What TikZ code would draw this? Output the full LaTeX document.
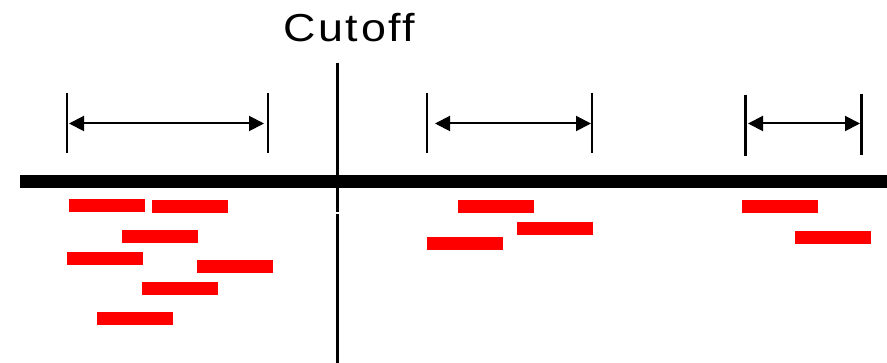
\documentclass[tikz,border=0pt]{standalone}
\usepackage{fontspec}
\setmainfont{Liberation Sans}
\usetikzlibrary{arrows.meta,positioning}

\begin{document}
\begin{tikzpicture}[x=1pt,y=-1pt,
    bar/.style={fill=red,inner sep=0pt,minimum width=76pt,minimum height=13pt,anchor=north west},
    tick/.style={line width=2pt},
    span/.style={line width=2pt,{Triangle[length=15pt,width=15pt]}-{Triangle[length=15pt,width=15pt]}}]
    \useasboundingbox (0,0) rectangle (887,363);
    %\draw[color=gray,step=10pt,help lines,opacity=0.3] (0,0) grid (887,363); %help grids
    % time axis and cutoff
    \coordinate (L) at (20,181.5);
    \coordinate (R) at (887,181.5);
    \draw[line width=13pt] (L)--(R);
    \coordinate (C0) at (337.5,63);
    \coordinate (C1) at (337.5,212.5);
    \coordinate (C2) at (337.5,214.5);
    \coordinate (C3) at (337.5,363);
    \draw[line width=2.7pt] (C0)--(C1);
    \draw[line width=2.7pt] (C2)--(C3);
    \node[inner sep=0pt,anchor=base west] (cut) at (283,41.3)
        {\scalebox{1.15}[1]{\fontsize{39}{40}\selectfont\addfontfeature{LetterSpace=6}Cutoff}};
    % spans
    \coordinate (P1a) at (66.7,93); \coordinate (P1b) at (66.7,153);
    \coordinate (Q1a) at (268,93);  \coordinate (Q1b) at (268,153);
    \draw[tick] (P1a)--(P1b);
    \draw[tick] (Q1a)--(Q1b);
    \coordinate (A1) at (69,123.5); \coordinate (B1) at (264,123.5);
    \draw[span] (A1)--(B1);
    \coordinate (P2a) at (426.7,93); \coordinate (P2b) at (426.7,153);
    \coordinate (Q2a) at (592,93);   \coordinate (Q2b) at (592,153);
    \draw[tick] (P2a)--(P2b);
    \draw[tick] (Q2a)--(Q2b);
    \coordinate (A2) at (435,123.5); \coordinate (B2) at (591,123.5);
    \draw[span] (A2)--(B2);
    \coordinate (P3a) at (745.5,95); \coordinate (P3b) at (745.5,156);
    \coordinate (Q3a) at (861.5,94); \coordinate (Q3b) at (861.5,155);
    \draw[tick,line width=2.7pt] (P3a)--(P3b);
    \draw[tick,line width=2.7pt] (Q3a)--(Q3b);
    \coordinate (A3) at (748,123.5); \coordinate (B3) at (860,123.5);
    \draw[span] (A3)--(B3);
    % jobs before cutoff
    \node[bar] (r1) at (69,199) {};
    \node[bar] (r2) at (152,200) {};
    \node[bar] (r3) at (122,230) {};
    \node[bar] (r4) at (67,252) {};
    \node[bar] (r5) at (197,260) {};
    \node[bar] (r6) at (142,282) {};
    \node[bar] (r7) at (97,312) {};
    % jobs after cutoff
    \node[bar] (r8) at (458,200) {};
    \node[bar] (r9) at (517,222) {};
    \node[bar] (r10) at (427,237) {};
    \node[bar] (r11) at (742,200) {};
    \node[bar] (r12) at (795,231) {};
\end{tikzpicture}
\end{document}
